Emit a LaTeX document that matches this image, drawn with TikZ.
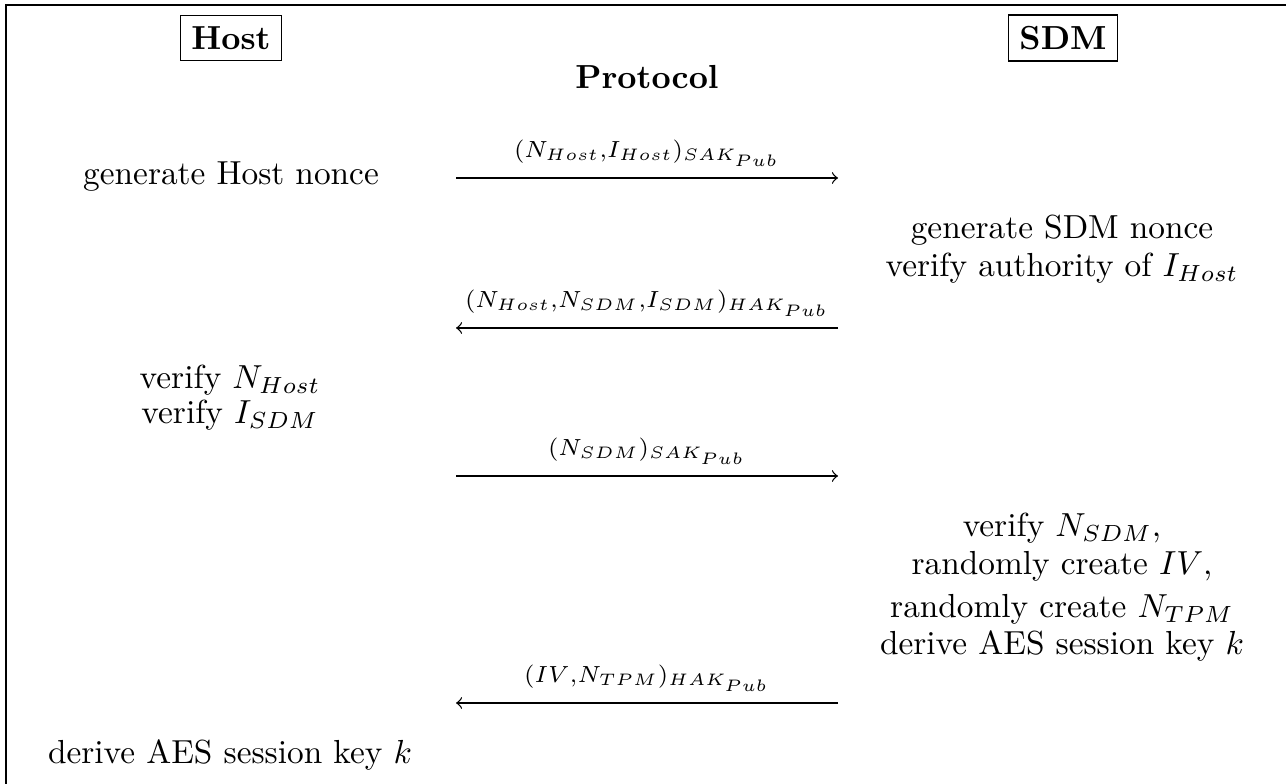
\documentclass[tikz,border=0pt]{standalone}
\begin{document}
\begin{tikzpicture}[x=0.3pt,y=-0.3pt,
  party/.style={draw,font=\bfseries,inner sep=3.33pt,line width=0.4pt},
  act/.style={align=center,anchor=base},
  msg/.style={->,line width=0.4pt},
  lbl/.style={above,font=\scriptsize},
  framing/.style={line width=0.5pt}]
\useasboundingbox (0,0) rectangle (1286,784);

% outer frame (top and left edges)
\draw[framing] (6,784) -- (6,5) -- (1286,5);

% participants and title
\node[party] (host) at (231,38) {Host};
\node[party] (sdm) at (1063,38) {SDM};
\node[font=\bfseries,anchor=base] (proto) at (647,89) {Protocol};

% step 1: host nonce
\node[act] (hostnonce) at (231,185) {generate Host nonce};
\coordinate (m1a) at (456,178);
\coordinate (m1b) at (838,178);
\draw[msg] (m1a) -- node[lbl] {$(N_{Host}{,}I_{Host})_{SAK_{Pub}}$} (m1b);

% step 2: SDM nonce (anchored at the baseline of the last line)
\node[act] (sdmnonce) at (1062,277) {generate SDM nonce\\[-0.6pt]verify authority of $I_{Host}$};
\coordinate (m2a) at (838,328);
\coordinate (m2b) at (456,328);
\draw[msg] (m2a) -- node[lbl] {$(N_{Host}{,}N_{SDM}{,}I_{SDM})_{HAK_{Pub}}$} (m2b);

% step 3: host verification
\node[act] (hostverify) at (230,424) {verify $N_{Host}$\\[-1.5pt]verify $I_{SDM}$};
\coordinate (m3a) at (456,476);
\coordinate (m3b) at (838,476);
\draw[msg] (m3a) -- node[lbl] {$(N_{SDM})_{SAK_{Pub}}$} (m3b);

% step 4: SDM key derivation
\node[act] (sdmkey) at (1062,655) {verify $N_{SDM}$,\\[-0.6pt]randomly create $IV$,\\[0.9pt]randomly create $N_{TPM}$\\[-0.9pt]derive AES session key $k$};
\coordinate (m4a) at (838,703);
\coordinate (m4b) at (456,703);
\draw[msg] (m4a) -- node[lbl] {$(IV{,}N_{TPM})_{HAK_{Pub}}$} (m4b);

% step 5: host key derivation
\node[act] (hostkey) at (230,763) {derive AES session key $k$};
\end{tikzpicture}
\end{document}
